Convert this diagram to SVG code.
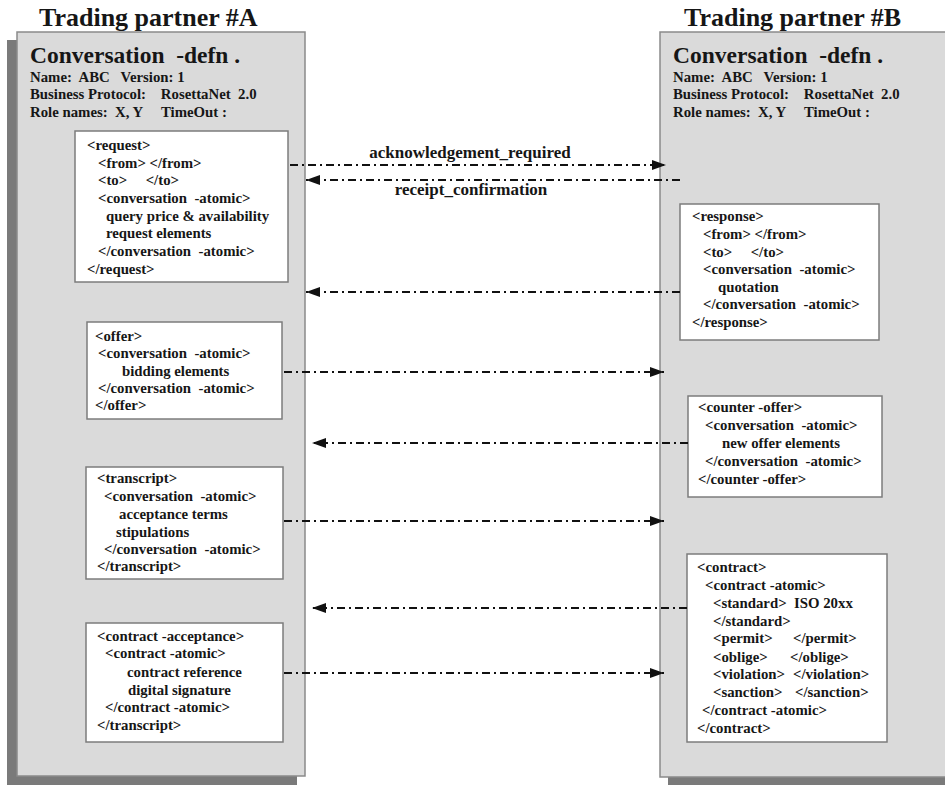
<svg xmlns="http://www.w3.org/2000/svg" width="945" height="785" viewBox="0 0 945 785" xml:space="preserve">
<style>
text{font-family:"Liberation Serif","Times New Roman",serif;font-weight:bold;fill:#161616;white-space:pre}
.title{font-size:26px}
.big{font-size:23.5px}
.hdr{font-size:14.8px}
.t{font-size:14.8px}
.lbl{font-size:17px}
.panel{fill:#dadada;stroke:#8a8a8a;stroke-width:1.5}
.shadow{fill:#7a7a7a}
.box{fill:#ffffff;stroke:#7c7c7c;stroke-width:1.5}
.conn{stroke:#111;stroke-width:2;fill:none;stroke-dasharray:8 4 2 4;marker-end:url(#ah)}
</style>
<defs>
<marker id="ah" viewBox="0 0 14 10" refX="14" refY="5" markerWidth="14" markerHeight="10" markerUnits="userSpaceOnUse" orient="auto">
<path d="M0,0 L14,5 L0,10 z" fill="#111"/>
</marker>
</defs>
<rect width="945" height="785" fill="#ffffff"/>

<g id="partnerA">
<text class="title" x="39" y="26">Trading partner #A</text>
<rect class="shadow" x="7" y="40" width="290" height="745"/>
<rect class="panel" x="17" y="32" width="288" height="744"/>
<text class="big" x="30" y="63">Conversation  -defn .</text>
<text class="hdr" x="30" y="82">Name:  ABC   Version: 1</text>
<text class="hdr" x="30" y="99">Business Protocol:    RosettaNet  2.0</text>
<text class="hdr" x="30" y="117">Role names:  X, Y     TimeOut :</text>
</g>

<g id="partnerB">
<text class="title" x="684" y="26">Trading partner #B</text>
<rect class="shadow" x="668" y="40" width="290" height="745"/>
<rect class="panel" x="660" y="32" width="300" height="745"/>
<text class="big" x="673" y="63">Conversation  -defn .</text>
<text class="hdr" x="673" y="82">Name:  ABC   Version: 1</text>
<text class="hdr" x="673" y="99">Business Protocol:    RosettaNet  2.0</text>
<text class="hdr" x="673" y="117">Role names:  X, Y     TimeOut :</text>
</g>

<g id="request">
<rect class="box" x="75" y="131" width="213" height="151"/>
<text class="t" x="87" y="150">&lt;request&gt;</text>
<text class="t" x="98" y="168">&lt;from&gt; &lt;/from&gt;</text>
<text class="t" x="98" y="185">&lt;to&gt;     &lt;/to&gt;</text>
<text class="t" x="98" y="203">&lt;conversation  -atomic&gt;</text>
<text class="t" x="106" y="221">query price &amp; availability</text>
<text class="t" x="106" y="238">request elements</text>
<text class="t" x="98" y="256">&lt;/conversation  -atomic&gt;</text>
<text class="t" x="87" y="274">&lt;/request&gt;</text>
</g>

<g id="response">
<rect class="box" x="680" y="204" width="199" height="136"/>
<text class="t" x="692" y="221">&lt;response&gt;</text>
<text class="t" x="703" y="239">&lt;from&gt; &lt;/from&gt;</text>
<text class="t" x="703" y="257">&lt;to&gt;     &lt;/to&gt;</text>
<text class="t" x="703" y="274">&lt;conversation  -atomic&gt;</text>
<text class="t" x="718" y="292">quotation</text>
<text class="t" x="703" y="309">&lt;/conversation  -atomic&gt;</text>
<text class="t" x="692" y="327">&lt;/response&gt;</text>
</g>

<g id="offer">
<rect class="box" x="87" y="322" width="195" height="97"/>
<text class="t" x="95" y="341">&lt;offer&gt;</text>
<text class="t" x="98" y="358">&lt;conversation  -atomic&gt;</text>
<text class="t" x="122" y="376">bidding elements</text>
<text class="t" x="98" y="393">&lt;/conversation  -atomic&gt;</text>
<text class="t" x="95" y="410">&lt;/offer&gt;</text>
</g>

<g id="counter-offer">
<rect class="box" x="688" y="396" width="194" height="101"/>
<text class="t" x="698" y="412">&lt;counter -offer&gt;</text>
<text class="t" x="705" y="430">&lt;conversation  -atomic&gt;</text>
<text class="t" x="722" y="448">new offer elements</text>
<text class="t" x="705" y="466">&lt;/conversation  -atomic&gt;</text>
<text class="t" x="698" y="484">&lt;/counter -offer&gt;</text>
</g>

<g id="transcript">
<rect class="box" x="86" y="467" width="197" height="112"/>
<text class="t" x="97" y="483">&lt;transcript&gt;</text>
<text class="t" x="104" y="501">&lt;conversation  -atomic&gt;</text>
<text class="t" x="119" y="519">acceptance terms</text>
<text class="t" x="116" y="537">stipulations</text>
<text class="t" x="104" y="554">&lt;/conversation  -atomic&gt;</text>
<text class="t" x="97" y="571">&lt;/transcript&gt;</text>
</g>

<g id="contract">
<rect class="box" x="687" y="554" width="200" height="188"/>
<text class="t" x="697" y="572">&lt;contract&gt;</text>
<text class="t" x="705" y="590">&lt;contract -atomic&gt;</text>
<text class="t" x="713" y="608">&lt;standard&gt;  ISO 20xx</text>
<text class="t" x="713" y="626">&lt;/standard&gt;</text>
<text class="t" x="713" y="643">&lt;permit&gt;</text>
<text class="t" x="793" y="643">&lt;/permit&gt;</text>
<text class="t" x="713" y="662">&lt;oblige&gt;</text>
<text class="t" x="790" y="662">&lt;/oblige&gt;</text>
<text class="t" x="713" y="679">&lt;violation&gt;</text>
<text class="t" x="793" y="679">&lt;/violation&gt;</text>
<text class="t" x="713" y="697">&lt;sanction&gt;</text>
<text class="t" x="795" y="697">&lt;/sanction&gt;</text>
<text class="t" x="702" y="715">&lt;/contract -atomic&gt;</text>
<text class="t" x="697" y="733">&lt;/contract&gt;</text>
</g>

<g id="contract-acceptance">
<rect class="box" x="86" y="623" width="197" height="119"/>
<text class="t" x="97" y="641">&lt;contract -acceptance&gt;</text>
<text class="t" x="105" y="658">&lt;contract -atomic&gt;</text>
<text class="t" x="127" y="677">contract reference</text>
<text class="t" x="128" y="695">digital signature</text>
<text class="t" x="105" y="712">&lt;/contract -atomic&gt;</text>
<text class="t" x="97" y="730">&lt;/transcript&gt;</text>
</g>

<g id="connectors">
<line class="conn" x1="290" y1="165" x2="666" y2="165"/>
<text class="lbl" x="470" y="158" text-anchor="middle">acknowledgement_required</text>
<line class="conn" x1="680" y1="180" x2="306" y2="180"/>
<text class="lbl" x="471" y="195" text-anchor="middle">receipt_confirmation</text>
<line class="conn" x1="680" y1="292" x2="306" y2="292"/>
<line class="conn" x1="284" y1="372" x2="664" y2="372"/>
<line class="conn" x1="688" y1="443" x2="312" y2="443"/>
<line class="conn" x1="284" y1="521" x2="664" y2="521"/>
<line class="conn" x1="687" y1="608" x2="312" y2="608"/>
<line class="conn" x1="284" y1="673" x2="664" y2="673"/>
</g>
</svg>
